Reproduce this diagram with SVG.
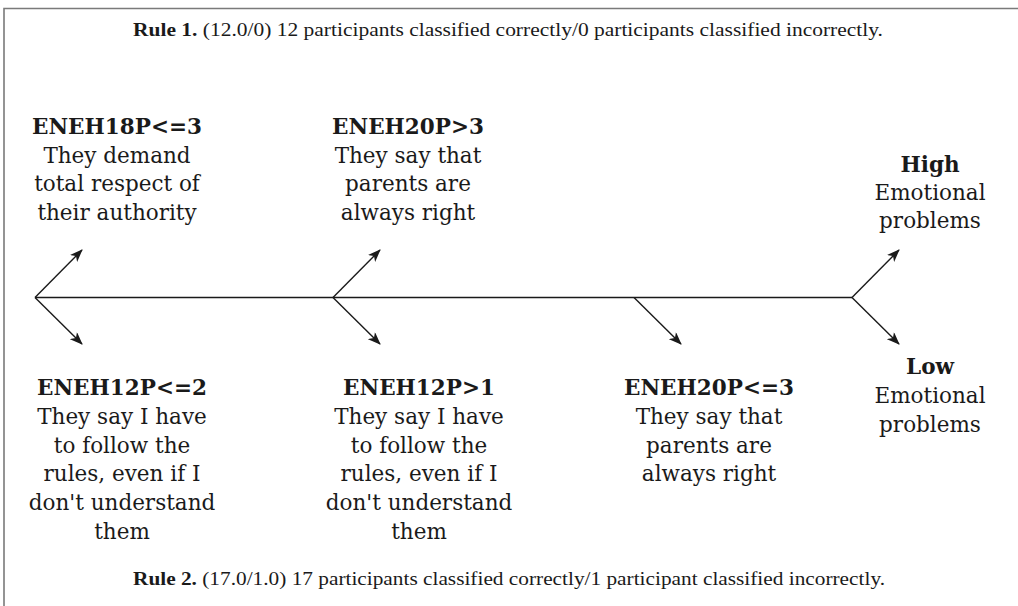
<svg xmlns="http://www.w3.org/2000/svg" width="1018" height="606" viewBox="0 0 1018 606">
<defs>
<marker id="ah" viewBox="0 0 13 10" refX="12" refY="5" markerWidth="13" markerHeight="10" markerUnits="userSpaceOnUse" orient="auto">
<path d="M0,0 L13,5 L0,10 L3.5,5 Z" fill="#1a1a1a"/>
</marker>
<style>
.t{font-family:"DejaVu Serif","Liberation Serif",serif;font-size:21.5px;fill:#1a1a1a;text-anchor:middle}
.b{font-weight:bold}
.cap{font-family:"Liberation Serif",serif;font-size:18px;fill:#1a1a1a}
.ln{stroke:#1a1a1a;stroke-width:1.4;fill:none}
.ar{stroke:#1a1a1a;stroke-width:1.4;fill:none;marker-end:url(#ah)}
</style>
</defs>
<rect width="1018" height="606" fill="#fff"/>
<path d="M4,606 V8.5 H1018" stroke="#7a7a7a" stroke-width="1.6" fill="none"/>
<text class="cap" x="133" y="36" textLength="750" lengthAdjust="spacingAndGlyphs"><tspan font-weight="bold">Rule 1.</tspan> (12.0/0) 12 participants classified correctly/0 participants classified incorrectly.</text>
<text class="cap" x="133" y="585" textLength="752" lengthAdjust="spacingAndGlyphs"><tspan font-weight="bold">Rule 2.</tspan> (17.0/1.0) 17 participants classified correctly/1 participant classified incorrectly.</text>
<g id="connectors">
<line class="ln" x1="35" y1="297.5" x2="852" y2="297.5"/>
<line class="ar" x1="35" y1="297.5" x2="82" y2="250"/>
<line class="ar" x1="35" y1="297.5" x2="82" y2="344"/>
<line class="ar" x1="333" y1="297.5" x2="380" y2="250"/>
<line class="ar" x1="333" y1="297.5" x2="380" y2="344"/>
<line class="ar" x1="634" y1="297.5" x2="681" y2="344"/>
<line class="ar" x1="852" y1="297.5" x2="899" y2="250"/>
<line class="ar" x1="852" y1="297.5" x2="899" y2="344"/>
</g>
<g id="n-eneh18">
<text class="t" x="117" y="134"><tspan class="b">ENEH18P&lt;=3</tspan><tspan x="117" dy="28.5">They demand</tspan><tspan x="117" dy="28.5">total respect of</tspan><tspan x="117" dy="28.5">their authority</tspan></text>
</g>
<g id="n-eneh20gt">
<text class="t" x="408" y="134"><tspan class="b">ENEH20P&gt;3</tspan><tspan x="408" dy="28.5">They say that</tspan><tspan x="408" dy="28.5">parents are</tspan><tspan x="408" dy="28.5">always right</tspan></text>
</g>
<g id="n-high">
<text class="t" x="930" y="172"><tspan class="b">High</tspan><tspan x="930" dy="28.2">Emotional</tspan><tspan x="930" dy="28.2">problems</tspan></text>
</g>
<g id="n-eneh12le">
<text class="t" x="122" y="395"><tspan class="b">ENEH12P&lt;=2</tspan><tspan x="122" dy="28.8">They say I have</tspan><tspan x="122" dy="28.8">to follow the</tspan><tspan x="122" dy="28.8">rules, even if I</tspan><tspan x="122" dy="28.8">don't understand</tspan><tspan x="122" dy="28.8">them</tspan></text>
</g>
<g id="n-eneh12gt">
<text class="t" x="419" y="395"><tspan class="b">ENEH12P&gt;1</tspan><tspan x="419" dy="28.8">They say I have</tspan><tspan x="419" dy="28.8">to follow the</tspan><tspan x="419" dy="28.8">rules, even if I</tspan><tspan x="419" dy="28.8">don't understand</tspan><tspan x="419" dy="28.8">them</tspan></text>
</g>
<g id="n-eneh20le">
<text class="t" x="709" y="395"><tspan class="b">ENEH20P&lt;=3</tspan><tspan x="709" dy="28.8">They say that</tspan><tspan x="709" dy="28.8">parents are</tspan><tspan x="709" dy="28.8">always right</tspan></text>
</g>
<g id="n-low">
<text class="t" x="930" y="374"><tspan class="b">Low</tspan><tspan x="930" dy="28.8">Emotional</tspan><tspan x="930" dy="28.8">problems</tspan></text>
</g>
</svg>
